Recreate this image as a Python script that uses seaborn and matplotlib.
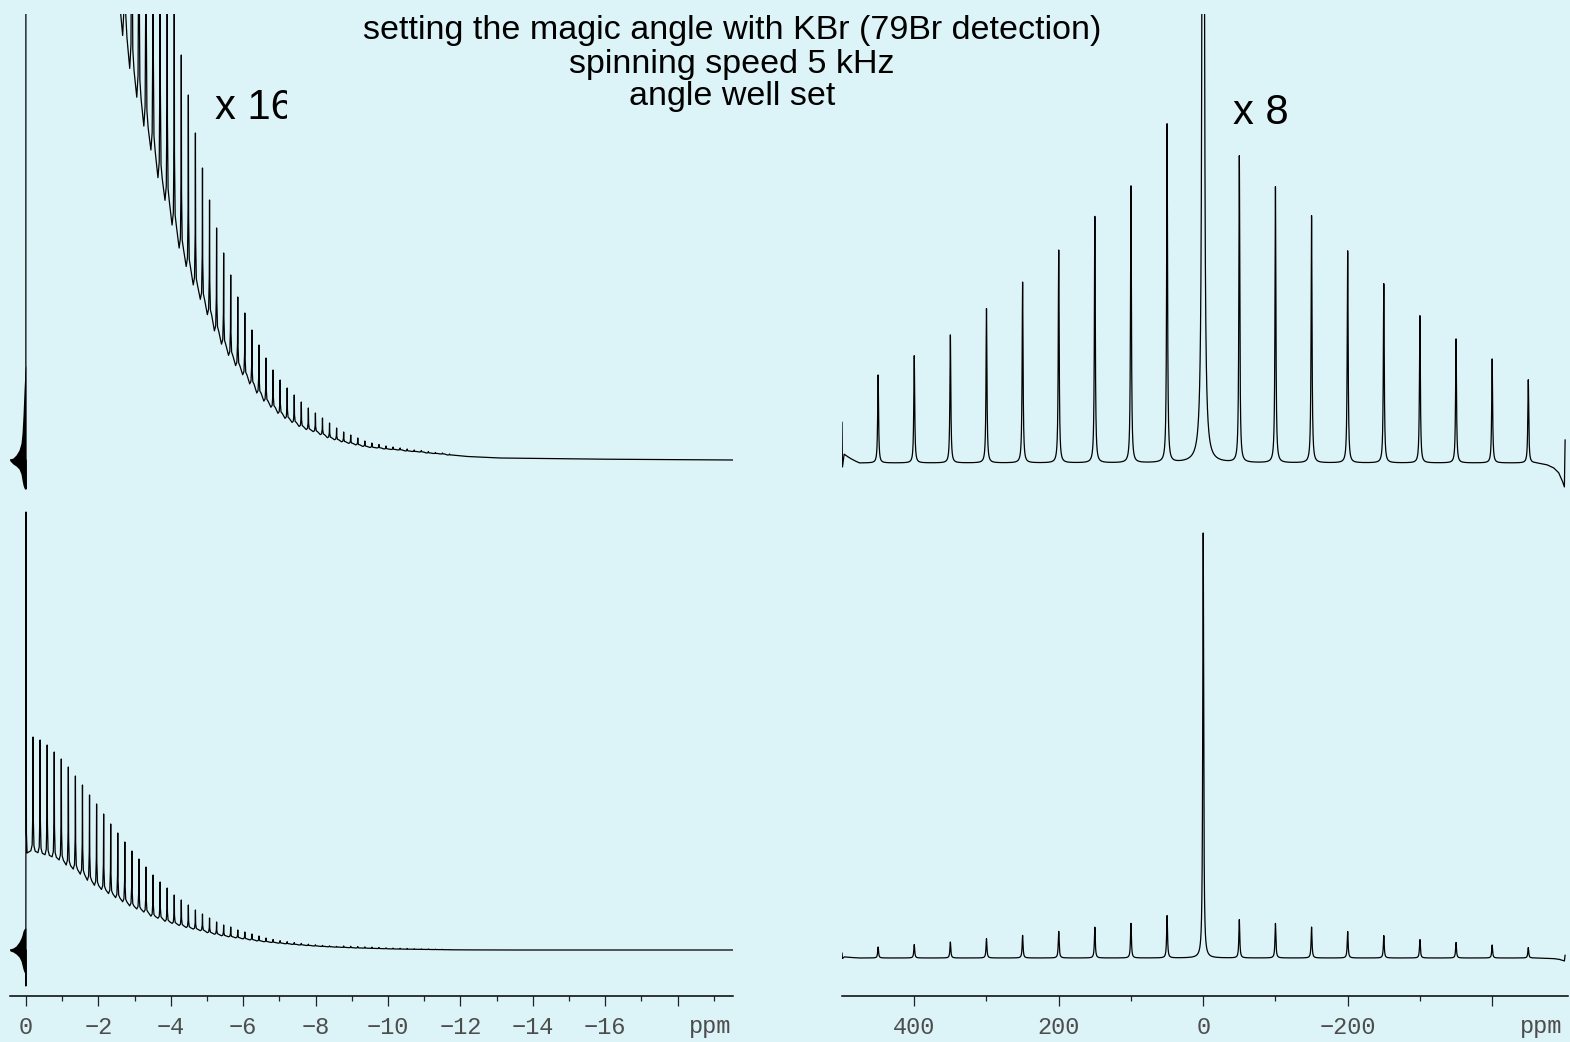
import numpy as np
import matplotlib
matplotlib.use("Agg")
import matplotlib.pyplot as plt
import seaborn as sns
from matplotlib.patches import Rectangle

# ---------------- data ----------------
# Left panel: FID-like trace with rotor echoes (intensity in a.u.)
echo_ppm = [-0.195, -0.39, -0.585, -0.78, -0.975, -1.17, -1.365, -1.56, -1.755, -1.95,
            -2.145, -2.34, -2.535, -2.73, -2.925, -3.12, -3.315, -3.51, -3.705, -3.9,
            -4.095, -4.29, -4.485, -4.68, -4.875, -5.07, -5.265, -5.46, -5.655, -5.85,
            -6.045, -6.24, -6.435, -6.63, -6.825, -7.02, -7.215, -7.41, -7.605, -7.8,
            -7.995, -8.19, -8.385, -8.58, -8.775, -8.97, -9.165, -9.36, -9.555, -9.75,
            -9.945, -10.14, -10.335, -10.53, -10.725, -10.92, -11.115, -11.31, -11.505, -11.7]

# bottom-left trace (full scale)
fidB_env = [97, 95, 93, 91, 88, 83, 79, 74, 68, 63, 59, 55, 51, 47, 43, 40, 37, 33, 31, 28,
            26, 24, 22, 20.5, 19, 17, 15.5, 14, 13, 12, 11, 10, 9, 8.2, 7.5, 6.8, 6.2, 5.6, 5.0, 4.5,
            4.0, 3.6, 3.2, 2.9, 2.6, 2.3, 2.0, 1.8, 1.6, 1.4, 1.2, 1.0, 0.9, 0.8, 0.7, 0.6, 0.5, 0.4, 0.3, 0.2]
fidB_top = [213, 210, 205, 198, 191, 183, 174, 165, 155, 146, 136, 126, 117, 108, 99, 91, 83, 75, 68, 62,
            55, 50, 45, 40, 36, 32, 28, 25, 23, 20, 18, 16, 14, 12, 10.5, 9.3, 8.3, 7.4, 6.6, 5.8,
            5.2, 4.6, 4.1, 3.6, 4.0, 3.7, 3.4, 3.1, 2.8, 2.5, 2.2, 1.9, 1.7, 1.5, 1.3, 1.1, 1.0, 0.8, 0.6, 0.4]
# top-left trace (x 16 display)
fidT_env = [844, 827, 809, 792, 766, 722, 687, 644, 592, 548, 513, 479, 446, 414, 382, 354, 326, 303, 276, 254,
            230, 208, 190, 172, 158, 143, 127, 114, 103, 93, 84, 75, 66, 58, 52, 46, 41, 37, 33, 30,
            28, 25, 22, 20, 18, 16.5, 15, 13.5, 12.5, 12, 11, 10.5, 10, 9, 8.5, 8, 7, 6.5, 6, 5]
fidT_top = [1853, 1827, 1784, 1723, 1662, 1592, 1514, 1436, 1349, 1270, 1183, 1096, 1018, 940, 861, 792, 722, 652, 592, 539,
            478, 405, 365, 327, 292, 260, 232, 207, 185, 163, 147, 130, 115, 102, 90, 80, 72, 65, 58, 52,
            47, 42, 37, 32, 28, 25, 22, 19, 17, 15.5, 14, 13, 12, 11, 10, 9.5, 8.5, 7.5, 7, 6]

# start of the FID (receiver ringing before the first point, then the first point)
ring_ppm = [0.442, 0.359, 0.276, 0.193, 0.138, 0.110, 0.083, 0.055, 0.028, 0.006]
ringB_up = [1, 2, 4, 8, 12, 15, 19, 21, 22, 22]
ringB_dn = [-1, -2, -4, -7, -11, -15, -19, -22, -23, -23]
ringT_up = [1, 2, 5, 10, 17, 27, 45, 70, 90, 95]
ringT_dn = [-1, -4, -6, -9, -14, -20, -25, -28, -29, -29]
startB_ppm = [0.442, 0.006, 0.004, 0.0, -0.012, -0.03]
startB_val = [0, 0, -36, 438, 117, 97]
startT_ppm = [0.442, 0.006, 0.004, 0.0, -0.012, -0.03]
startT_val = [0, 0, -29, 2200, 1018, 844]
tailB_ppm = [-12.2, -13.5, -19.53]
tailB_val = [0.1, 0.0, 0.0]
tailT_ppm = [-12.2, -13.1, -16.0, -19.53]
tailT_val = [3.5, 2.0, 0.8, 0.0]

# Right panel: spinning-sideband spectrum (bottom trace, full scale)
sb_ppm = [450, 400, 350, 300, 250, 200, 150, 100, 50, 0,
          -50, -100, -150, -200, -250, -300, -350, -400, -450]
sb_height = [11, 13.4, 16, 19.3, 22.6, 26.6, 30.8, 34.6, 42.3, 425,
             38.3, 34.5, 30.9, 26.5, 22.4, 18.4, 15.5, 13, 10.4]
edge_ppm = [500, 499.4, 497, 494, 489, 483, 476, 300, -460, -475, -485, -492, -497, -500, -501]
edge_val = [5.1, -0.5, 1.1, 0.9, 0.6, 0.3, 0.0, 0.0, 0.0, -0.2, -0.6, -1.2, -2.2, -3.0, 2.9]

right_scale_top = 8.0     # "x 8"
offset_left_top = 490
offset_right_top = 495

# ---------------- style ----------------
BG = "#dcf4f8"
sns.set_theme(style="white")
plt.rcParams["font.family"] = ["Liberation Sans", "DejaVu Sans"]

W, H = 1570, 1042
fig = plt.figure(figsize=(W / 100, H / 100), dpi=100, facecolor=BG)
axL = fig.add_axes([10 / W, 46 / H, 723 / W, 982 / H])
axR = fig.add_axes([842 / W, 46 / H, 726 / W, 982 / H])

LW = 0.9

# echo line shape (offset in ppm, fraction of echo height above the envelope)
cusp_dx = [0.06, 0.025, 0.007, 0.0, -0.007, -0.025, -0.06]
cusp_fr = [0.02, 0.07, 0.35, 1.0, 0.30, 0.06, 0.015]


def fid_line(start_ppm, start_val, env, top, tail_ppm, tail_val, offset):
    xs = list(start_ppm)
    ys = list(start_val)
    for p, e, t in zip(echo_ppm, env, top):
        for dx, fr in zip(cusp_dx, cusp_fr):
            xs.append(p + dx)
            ys.append(e + fr * (t - e))
    xs += list(tail_ppm)
    ys += list(tail_val)
    return np.array(xs), np.array(ys) + offset


# left: bottom trace
xb, yb = fid_line(startB_ppm, startB_val, fidB_env, fidB_top, tailB_ppm, tailB_val, 0)
axL.fill_between(ring_ppm, ringB_dn, ringB_up, color="black", lw=0)
sns.lineplot(x=xb, y=yb, sort=False, estimator=None, color="black", linewidth=LW, ax=axL)
# left: top trace
xt, yt = fid_line(startT_ppm, startT_val, fidT_env, fidT_top, tailT_ppm, tailT_val, offset_left_top)
axL.fill_between(ring_ppm, np.array(ringT_dn) + offset_left_top, np.array(ringT_up) + offset_left_top,
                 color="black", lw=0)
sns.lineplot(x=xt, y=yt, sort=False, estimator=None, color="black", linewidth=LW, ax=axL)

# right: spectrum rendered from the peak list (Lorentzian lines)
grid = np.linspace(500, -501, 20021)
fwhm = 1.5
spec = np.interp(grid, edge_ppm[::-1], edge_val[::-1])
for p, h in zip(sb_ppm, sb_height):
    spec = spec + h / (1 + (2 * (grid - p) / fwhm) ** 2)
sns.lineplot(x=grid, y=spec, sort=False, estimator=None, color="black", linewidth=LW, ax=axR)
sns.lineplot(x=grid, y=spec * right_scale_top + offset_right_top, sort=False, estimator=None,
             color="black", linewidth=LW, ax=axR)

# axes cosmetics
tick_font = dict(family=["Liberation Mono", "DejaVu Sans Mono"], size=17, color="#4d4d4d")
for ax in (axL, axR):
    ax.set_facecolor(BG)
    for s in ("left", "right", "top"):
        ax.spines[s].set_visible(False)
    ax.spines["bottom"].set_color("black")
    ax.spines["bottom"].set_linewidth(1.1)
    ax.set_yticks([])
    ax.set_ylabel("")
    ax.set_xlabel("")
    ax.tick_params(axis="x", which="major", direction="out", length=7.5, width=0.9,
                   color="#222222", bottom=True, pad=7)
    ax.tick_params(axis="x", which="minor", direction="out", length=3.8, width=0.9,
                   color="#222222", bottom=True)

axL.set_xlim(0.442, -19.53)
axL.set_ylim(-46, 936)
axL.set_xticks([0, -2, -4, -6, -8, -10, -12, -14, -16, -18])
axL.set_xticks([-1, -3, -5, -7, -9, -11, -13, -15, -17, -19], minor=True)
axL.set_xticklabels(["0", "\u22122", "\u22124", "\u22126", "\u22128", "\u221210",
                     "\u221212", "\u221214", "\u221216", ""], fontdict=tick_font)

axR.set_xlim(500, -505)
axR.set_ylim(-38, 944)
axR.set_xticks([400, 200, 0, -200, -400])
axR.set_xticks([300, 100, -100, -300], minor=True)
axR.set_xticklabels(["400", "200", "0", "\u2212200", ""], fontdict=tick_font)

for ax, xp in ((axL, -18.9), (axR, -468)):
    ax.text(xp, -30 / 982, "ppm", transform=ax.get_xaxis_transform(), ha="center", va="center",
            fontdict=tick_font)

# titles and scale labels
for txt, ypix in (("setting the magic angle with KBr (79Br detection)", 31),
                  ("spinning speed 5 kHz", 64),
                  ("angle well set", 97)):
    fig.text(732 / W, 1 - ypix / H, txt, ha="center", va="center", fontsize=24.5, color="black")

t16 = fig.text(215 / W, 1 - 108 / H, "x 16", ha="left", va="center", fontsize=30, color="black")
clip = Rectangle((0, 0), 287 / W, 1, transform=fig.transFigure, facecolor="none", edgecolor="none")
t16.set_clip_path(clip)
fig.text(1233 / W, 1 - 113 / H, "x 8", ha="left", va="center", fontsize=30, color="black")

fig.savefig("out.png", dpi=100, facecolor=BG)
